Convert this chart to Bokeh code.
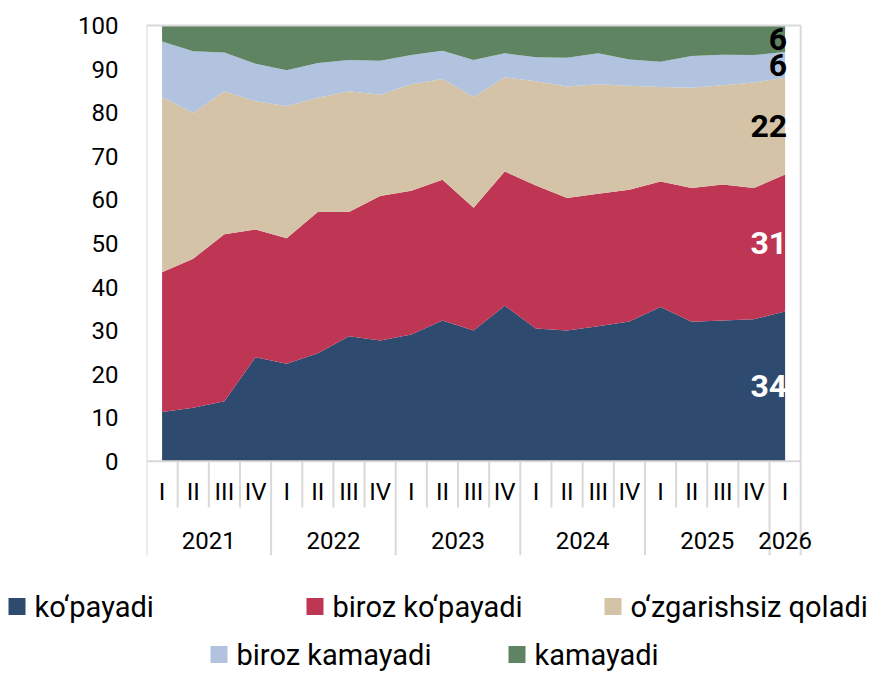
from bokeh.plotting import figure
from bokeh.models import FixedTicker, ColumnDataSource, Range1d, LabelSet
from bokeh.layouts import column
from bokeh.core.properties import value
from bokeh.embed import file_html
from bokeh.resources import INLINE

# ---- data -------------------------------------------------------------
years = ["2021", "2022", "2023", "2024", "2025", "2026"]
quarters = ["I", "II", "III", "IV"] * 5 + ["I"]
year_of = [y for y in years[:5] for _ in range(4)] + ["2026"]

kopayadi = [11.3, 12.3, 13.8, 23.9, 22.4, 24.8, 28.7, 27.7, 29.1, 32.3, 30.0,
            35.7, 30.5, 30.0, 31.0, 32.1, 35.4, 32.0, 32.3, 32.6, 34.4]
biroz_kopayadi = [32.1, 34.2, 38.3, 29.3, 28.8, 32.4, 28.5, 33.2, 33.0, 32.3, 28.2,
                  30.8, 32.8, 30.4, 30.4, 30.2, 28.8, 30.7, 31.2, 30.1, 31.4]
ozgarishsiz = [40.2, 33.4, 32.8, 29.4, 30.3, 26.2, 27.7, 23.2, 24.4, 23.1, 25.4,
               21.6, 23.9, 25.6, 25.1, 23.9, 21.7, 23.0, 22.8, 24.2, 22.2]
biroz_kamayadi = [12.7, 14.2, 8.9, 8.6, 8.2, 8.0, 7.2, 7.8, 6.7, 6.5, 8.5,
                  5.5, 5.5, 6.6, 7.1, 6.0, 5.8, 7.3, 7.0, 6.3, 5.9]
kamayadi = [3.7, 5.9, 6.2, 8.8, 10.3, 8.6, 7.9, 8.1, 6.8, 5.8, 7.9,
            6.4, 7.3, 7.4, 6.4, 7.8, 8.3, 7.0, 6.7, 6.8, 6.1]

series_names = ["ko‘payadi", "biroz ko‘payadi", "o‘zgarishsiz qoladi",
                "biroz kamayadi", "kamayadi"]
colors = ["#2E4A6F", "#BF3554", "#D4C3A7", "#B1C3DF", "#5E8462"]
label_colors = ["white", "white", "black", "black", "black"]
y_ticks = [0, 10, 20, 30, 40, 50, 60, 70, 80, 90, 100]

FONT = "Roboto"
GRID = "#D9D9D9"

# ---- main chart -------------------------------------------------------
n = len(quarters)
xs = list(range(n))
cols = ["s0", "s1", "s2", "s3", "s4"]
all_series = [kopayadi, biroz_kopayadi, ozgarishsiz, biroz_kamayadi, kamayadi]
src = ColumnDataSource(dict(x=xs, **{c: s for c, s in zip(cols, all_series)}))

W = 870
H_MAIN = 560
H_LEG = 111
AX_BOTTOM = -21.6
p = figure(width=W, height=H_MAIN, output_backend="svg", toolbar_location=None,
           x_range=Range1d(-0.5, n + 0.2), y_range=Range1d(AX_BOTTOM, 101.6),
           min_border_left=146, min_border_right=48, min_border_top=18,
           min_border_bottom=5)
p.frame_align = False
p.outline_line_color = None
p.xgrid.visible = False
p.ygrid.visible = False
p.xaxis.visible = False
p.yaxis.ticker = FixedTicker(ticks=y_ticks)
p.yaxis.axis_line_color = None
p.yaxis.major_tick_line_color = None
p.yaxis.minor_tick_line_color = None
p.yaxis.major_label_text_font = FONT
p.yaxis.major_label_text_font_size = "24px"
p.yaxis.major_label_text_color = "black"
p.yaxis.major_label_standoff = 22

areas = p.varea_stack(stackers=cols, x="x", color=colors, source=src)

# frame & category axis lines
lo, hi = -0.5, n - 0.5
p.segment(x0=[lo, lo, hi, lo], y0=[100, 100, 100, 0],
          x1=[hi, lo, hi, hi], y1=[100, AX_BOTTOM, 0, 0],
          line_color=GRID, line_width=2)
q_sep, y_sep = [], []
for i in range(n - 1):
    b = i + 0.5
    if year_of[i] != year_of[i + 1]:
        y_sep.append(b)
    else:
        q_sep.append(b)
y_sep.append(hi)
p.segment(x0=q_sep, y0=[0] * len(q_sep), x1=q_sep, y1=[-10.6] * len(q_sep),
          line_color=GRID, line_width=2)
p.segment(x0=y_sep, y0=[0] * len(y_sep), x1=y_sep, y1=[AX_BOTTOM] * len(y_sep),
          line_color=GRID, line_width=2)

qsrc = ColumnDataSource(dict(x=xs, y=[-7.1] * n, t=quarters))
p.add_layout(LabelSet(x="x", y="y", text="t", source=qsrc, text_align="center",
                      text_baseline="middle", text_font=value(FONT),
                      text_font_size="24px", text_color="black"))
yc = []
for yr in years:
    idx = [i for i in xs if year_of[i] == yr]
    yc.append(sum(idx) / len(idx))
ysrc = ColumnDataSource(dict(x=yc, y=[-18.1] * len(years), t=years))
p.add_layout(LabelSet(x="x", y="y", text="t", source=ysrc, text_align="center",
                      text_baseline="middle", text_font=value(FONT),
                      text_font_size="24px", text_color="black"))

# end-value labels
last = [s[-1] for s in all_series]
mids, cum = [], 0.0
for v in last:
    mids.append(cum + v / 2)
    cum += v
esrc = ColumnDataSource(dict(x=[n - 1] * 5, y=mids,
                             t=[str(round(v)) for v in last], c=label_colors))
p.add_layout(LabelSet(x="x", y="y", text="t", source=esrc, text_align="right",
                      text_baseline="middle", text_font=value(FONT),
                      text_font_size="32px", text_font_style="bold",
                      text_color="c", x_offset=2))

# ---- legend (separate strip below, pixel-scaled ranges) ------------------
leg = figure(width=W, height=H_LEG, output_backend="svg", toolbar_location=None,
             x_range=Range1d(0, W), y_range=Range1d(H_LEG, 0),
             min_border=0)
leg.frame_align = False
leg.outline_line_color = None
leg.axis.visible = False
leg.grid.visible = False

PITCH = 298
SQ = 17
row_start = [8, 210]
row_y = [46, 94]
rows = [[0, 1, 2], [3, 4]]
lx, ly, lc, tx, tt = [], [], [], [], []
for r, idxs in enumerate(rows):
    for k, i in enumerate(idxs):
        left = row_start[r] + k * PITCH
        lx.append(left + SQ / 2)
        ly.append(row_y[r])
        lc.append(colors[i])
        tx.append(left + SQ + 9)
        tt.append(series_names[i])
leg.rect(x=lx, y=ly, width=SQ, height=SQ, fill_color=lc, line_color=None)
leg.text(x=tx, y=ly, text=tt, text_baseline="middle", text_align="left",
         text_font=value(FONT), text_font_size="29px", text_color="black")

open("out.html", "w").write(file_html(column(p, leg, spacing=0), INLINE))
